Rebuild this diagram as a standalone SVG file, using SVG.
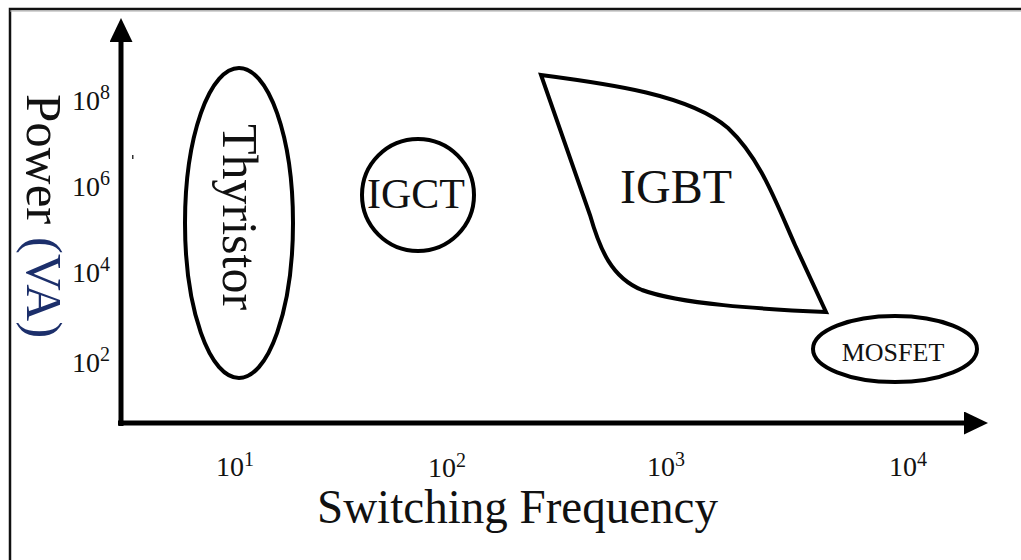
<svg xmlns="http://www.w3.org/2000/svg" width="1021" height="560" viewBox="0 0 1021 560">
  <defs>
    <style>
      text { font-family: "Liberation Serif", "Times New Roman", serif; fill: #111; }
      .shape { fill: none; stroke: #000; stroke-width: 4; }
      .axis { fill: none; stroke: #000; stroke-width: 5; }
      .tick { font-size: 28px; }
      .sup { font-size: 20px; }
    </style>
    <marker id="arrow" markerUnits="userSpaceOnUse" markerWidth="26" markerHeight="24" refX="2" refY="11.5" orient="auto">
      <path d="M0,0 L24,11.5 L0,23 Z" fill="#000"/>
    </marker>
  </defs>
  <rect width="1021" height="560" fill="#fff"/>
  <path d="M10,560 L10,9 L1021,9" fill="none" stroke="#111" stroke-width="2.5"/>
  <line x1="10" y1="11" x2="1021" y2="11" stroke="#aaa" stroke-width="1"/>
  <rect x="132" y="155" width="1.5" height="4" fill="#333"/>

  <g id="connectors">
    <path class="axis" d="M121,426 L121,40" marker-end="url(#arrow)"/>
    <path class="axis" d="M118,423 L966,423" marker-end="url(#arrow)"/>
  </g>

  <g id="y-label">
    <text transform="translate(27,94) rotate(90)" font-size="51"><tspan>Power </tspan><tspan fill="#1c2f6b">(VA)</tspan></text>
  </g>

  <g id="y-ticks">
    <text class="tick" x="72" y="110">10<tspan class="sup" dy="-11">8</tspan></text>
    <text class="tick" x="72" y="196">10<tspan class="sup" dy="-11">6</tspan></text>
    <text class="tick" x="72" y="282">10<tspan class="sup" dy="-11">4</tspan></text>
    <text class="tick" x="72" y="372">10<tspan class="sup" dy="-11">2</tspan></text>
  </g>

  <g id="x-ticks">
    <text class="tick" x="216" y="476">10<tspan class="sup" dy="-10">1</tspan></text>
    <text class="tick" x="428" y="477">10<tspan class="sup" dy="-10">2</tspan></text>
    <text class="tick" x="647" y="476">10<tspan class="sup" dy="-10">3</tspan></text>
    <text class="tick" x="889" y="476">10<tspan class="sup" dy="-10">4</tspan></text>
  </g>

  <g id="x-label">
    <text x="317" y="523" font-size="48" textLength="401" lengthAdjust="spacingAndGlyphs">Switching Frequency</text>
  </g>

  <g id="thyristor">
    <ellipse class="shape" cx="239" cy="223" rx="54" ry="155"/>
    <text transform="translate(223,217) rotate(90)" font-size="50" text-anchor="middle">Thyristor</text>
  </g>

  <g id="igct">
    <circle class="shape" cx="418" cy="195" r="56"/>
    <text x="416" y="208" font-size="42" text-anchor="middle">IGCT</text>
  </g>

  <g id="igbt">
    <path class="shape" stroke-linejoin="miter" d="M541,75 C610,84 690,95 728,128 C760,158 775,200 795,245 L826,312 C760,309 680,304 642,290 C612,278 600,250 590,215 Z"/>
    <text x="676" y="203" font-size="48" text-anchor="middle">IGBT</text>
  </g>

  <g id="mosfet">
    <ellipse class="shape" cx="895" cy="349" rx="82" ry="33"/>
    <text x="893" y="361" font-size="26" text-anchor="middle">MOSFET</text>
  </g>
</svg>
